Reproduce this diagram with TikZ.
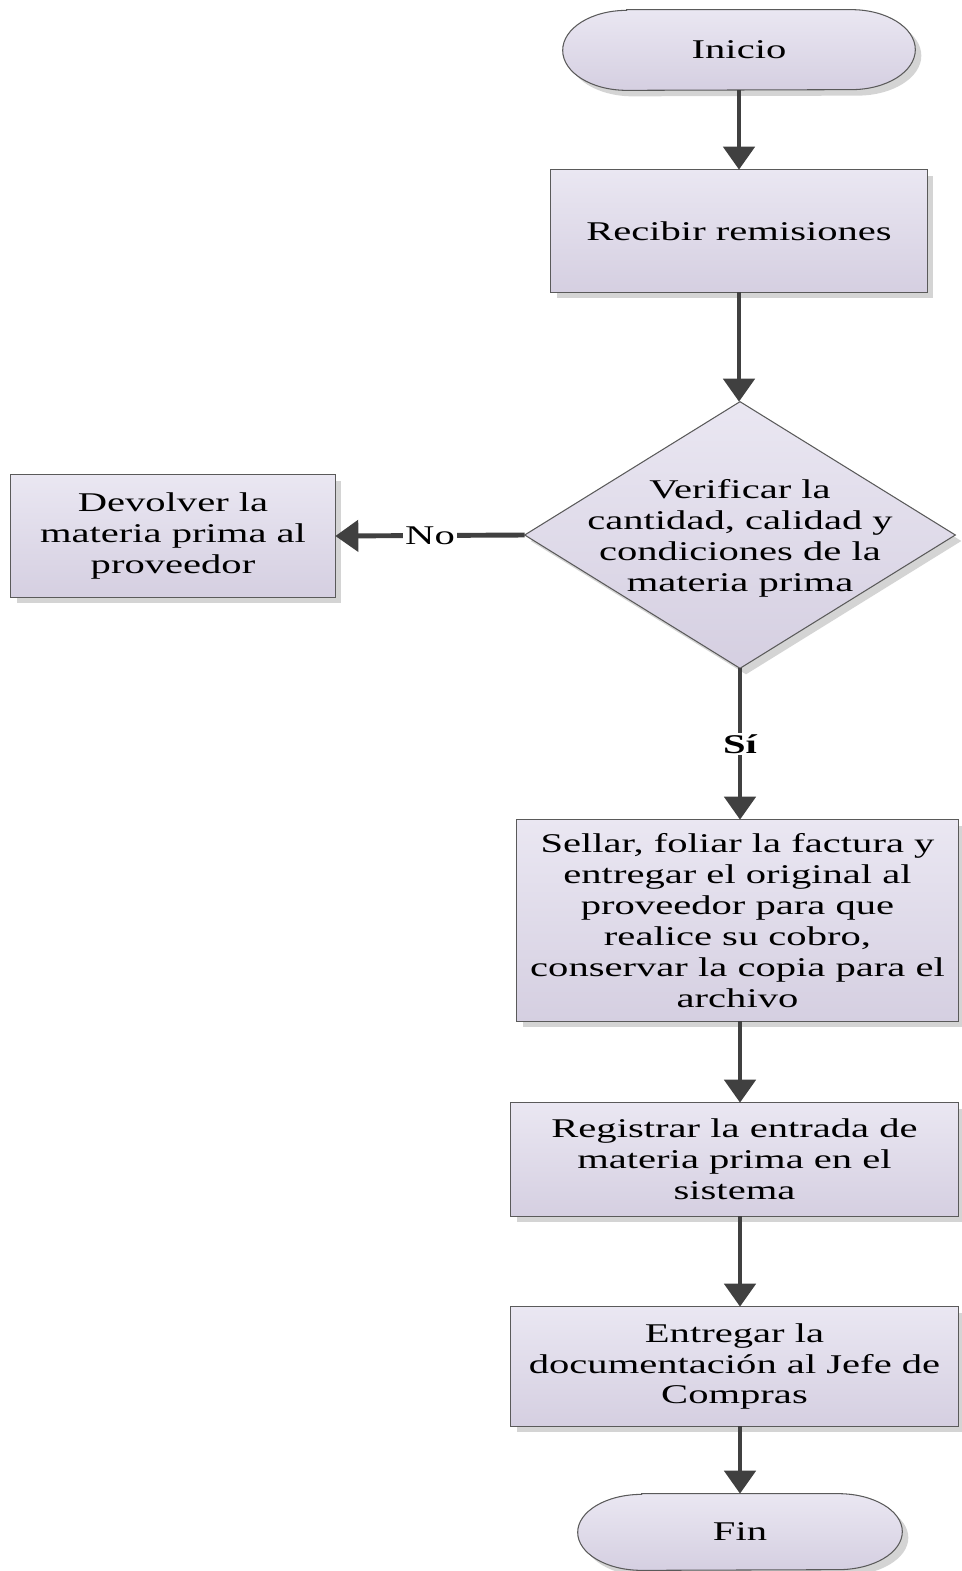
\documentclass[tikz,border=0pt]{standalone}
\usepackage{fontspec}
\setmainfont{Liberation Serif}[FakeStretch=1.5]
\usetikzlibrary{arrows.meta,shadows,backgrounds}
\definecolor{fillTop}{RGB}{234,231,242}
\definecolor{fillBot}{RGB}{213,207,225}
\definecolor{edgeC}{RGB}{90,90,90}
\definecolor{arrC}{RGB}{64,64,64}
\definecolor{shadowC}{RGB}{212,212,212}
\begin{document}
\begin{tikzpicture}[x=0.02cm,y=-0.02cm,
  txt/.style={align=center, inner sep=0pt, font=\fontsize{15.4pt}{17.6pt}\selectfont},
  shapefill/.style={top color=fillTop, bottom color=fillBot, draw=edgeC, line width=0.6pt,
    drop shadow={shadow xshift=0.12cm, shadow yshift=-0.12cm, fill=shadowC, opacity=1}},
  flow/.style={draw=arrC, line width=2.8pt, -{Triangle[width=0.62cm,length=0.46cm]}},
  lab/.style={fill=white, inner sep=1pt, font=\fontsize{15.4pt}{17.6pt}\selectfont}]
\useasboundingbox (0,0) rectangle (962,1571);

\node[txt, minimum width=7.04cm, minimum height=1.6cm] (inicio) at (739,50) {Inicio};
\node[txt, minimum width=7.52cm, minimum height=2.44cm] (recibir) at (739,231) {Recibir remisiones};
\node[txt, minimum width=8.6cm, minimum height=5.32cm] (dec) at (740,535) {\\[-0.1cm]Verificar la\\cantidad, calidad y\\condiciones de la\\materia prima};
\node[txt, minimum width=6.48cm, minimum height=2.44cm] (dev) at (173,536) {Devolver la\\materia prima al\\proveedor};
\node[txt, minimum width=8.82cm, minimum height=4.02cm] (sellar) at (737.5,920.5) {Sellar, foliar la factura y\\entregar el original al\\proveedor para que\\realice su cobro,\\conservar la copia para el\\archivo};
\node[txt, minimum width=8.94cm, minimum height=2.26cm] (reg) at (734.5,1159.5) {Registrar la entrada de\\materia prima en el\\sistema};
\node[txt, minimum width=8.94cm, minimum height=2.38cm] (ent) at (734.5,1366.5) {Entregar la\\documentación al Jefe de\\Compras};
\node[txt, minimum width=6.48cm, minimum height=1.52cm] (fin) at (740,1532) {Fin};

\begin{scope}[on background layer]
  \path[shapefill] ([xshift=1.28cm]inicio.north west) -- ([xshift=-1.28cm]inicio.north east)
    arc[start angle=90, end angle=-90, x radius=1.28cm, y radius=0.8cm]
    -- ([xshift=1.28cm]inicio.south west)
    arc[start angle=270, end angle=90, x radius=1.28cm, y radius=0.8cm] -- cycle;
  \path[shapefill] (recibir.north west) rectangle (recibir.south east);
  \path[shapefill] (dec.north) -- (dec.east) -- (dec.south) -- (dec.west) -- cycle;
  \path[shapefill] (dev.north west) rectangle (dev.south east);
  \path[shapefill] (sellar.north west) rectangle (sellar.south east);
  \path[shapefill] (reg.north west) rectangle (reg.south east);
  \path[shapefill] (ent.north west) rectangle (ent.south east);
  \path[shapefill] ([xshift=1.28cm]fin.north west) -- ([xshift=-1.28cm]fin.north east)
    arc[start angle=90, end angle=-90, x radius=1.28cm, y radius=0.76cm]
    -- ([xshift=1.28cm]fin.south west)
    arc[start angle=270, end angle=90, x radius=1.28cm, y radius=0.76cm] -- cycle;
\end{scope}

\draw[flow] (inicio.south) -- (recibir.north);
\draw[flow] (recibir.south) -- (recibir.south |- dec.north);
\draw[flow] (dec.west) -- node[lab]{No} (dev.east);
\draw[flow] (dec.south) -- node[lab]{\bfseries Sí} (dec.south |- sellar.north);
\draw[flow] (dec.south |- sellar.south) -- (dec.south |- reg.north);
\draw[flow] (dec.south |- reg.south) -- (dec.south |- ent.north);
\draw[flow] (dec.south |- ent.south) -- (fin.north);
\end{tikzpicture}
\end{document}
